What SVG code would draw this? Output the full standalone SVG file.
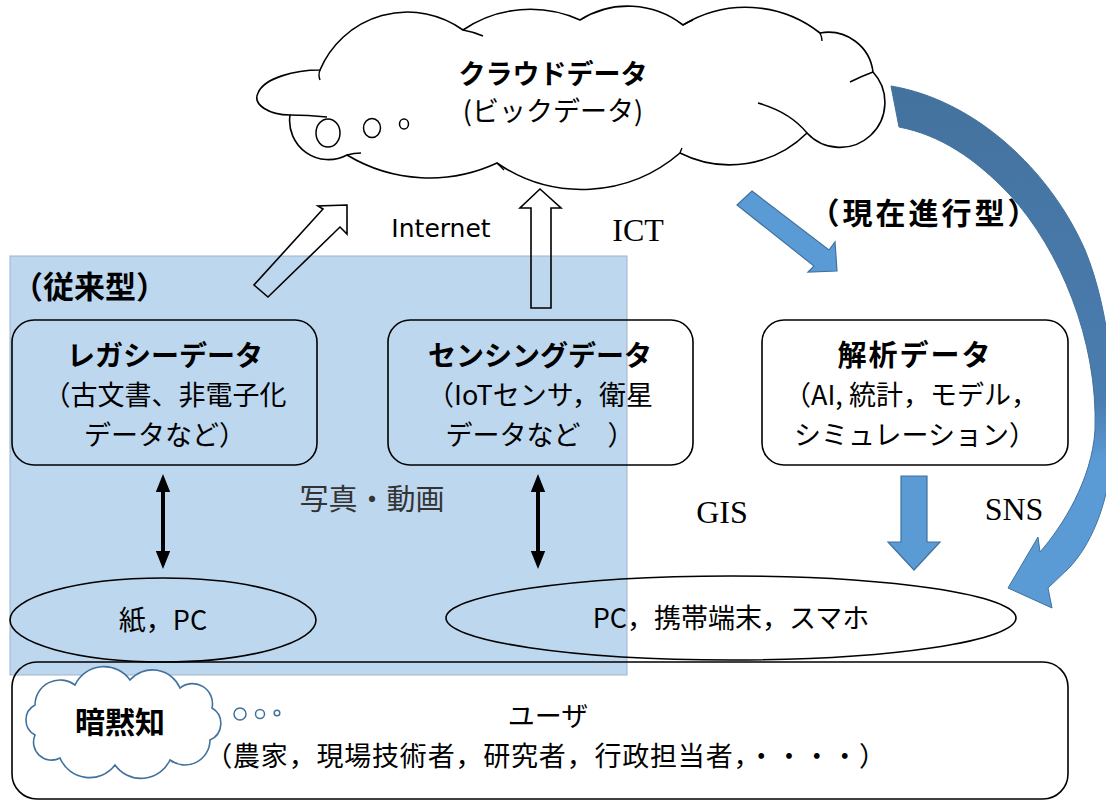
<svg xmlns="http://www.w3.org/2000/svg" width="1106" height="802" viewBox="0 0 1106 802">
<defs>
<style>
.jp{font-family:"Noto Sans CJK JP","Noto Sans",sans-serif;fill:#000}
.b{font-weight:bold}
.box{fill:none;stroke:#000;stroke-width:1.6}
.ser{font-family:"Liberation Serif",serif;fill:#000}
.blu{fill:#5B9BD5;stroke:#41719C;stroke-width:1.2}
.hol{fill:none;stroke:#000;stroke-width:1.6;stroke-linejoin:miter}
</style>
<marker id="ah" viewBox="0 0 10 10" refX="5" refY="5" markerWidth="4.5" markerHeight="4.5" orient="auto-start-reverse">
<path d="M0,1 L10,5 L0,9 Z" fill="#000"/>
</marker>
<linearGradient id="cg" x1="0" y1="0" x2="0" y2="1">
<stop offset="0" stop-color="#44729E"/>
<stop offset="0.6" stop-color="#4A7DB0"/>
<stop offset="0.72" stop-color="#5B9BD5"/>
<stop offset="1" stop-color="#5B9BD5"/>
</linearGradient>
</defs>
<rect width="1106" height="802" fill="#fff"/>
<rect id="legacy-area" x="10" y="256" width="617" height="419" fill="#BDD7EE" stroke="#9CB4CA" stroke-width="1"/>

<g id="cloud">
<path d="M320,70 A95,95 0 0 1 463,30 A120,120 0 0 1 580,20 A90,90 0 0 1 683,25 A120,120 0 0 1 820,33 A45,45 0 0 1 873,72 A43,43 0 0 1 807,133 A110,110 0 0 1 680,153 A150,150 0 0 1 497,163 A160,160 0 0 1 347,155 A39,39 0 0 1 290,115 C270,115 252,105 258,93 C264,78 295,70 320,70 Z" fill="#fff" stroke="#000" stroke-width="1.6"/>
<path d="M320,70 Q318,75 320,80 M463,30 Q474,32 483,36 M683,25 Q688,22 693,20 M820,33 Q822,37 822,41 M873,72 Q862,76 850,82 M807,133 Q790,112 758,103 M680,153 Q681,150 682,148 M497,163 Q500,166 504,170 M347,155 Q354,153 361,153 M290,115 Q308,115 327,117" fill="none" stroke="#000" stroke-width="1.4"/>
<ellipse cx="328" cy="133" rx="12" ry="14" fill="none" stroke="#000" stroke-width="1.5"/>
<ellipse cx="372" cy="128" rx="8.5" ry="9.5" fill="none" stroke="#000" stroke-width="1.5"/>
<ellipse cx="404" cy="124" rx="4.5" ry="5" fill="none" stroke="#000" stroke-width="1.5"/>
<text class="jp b" x="553" y="84" font-size="27" text-anchor="middle">クラウドデータ</text>
<text class="jp" x="553" y="121" font-size="27" text-anchor="middle">(ビックデータ)</text>
</g>

<g id="connectors">
<polygon class="hol" points="347,205 318,206 323,209 254,285 268,297 340,227 347,234"/>
<polygon class="hol" points="540,189 561,208 551,208 551,308 531,308 531,208 520,208"/>
<polygon class="blu" points="752,191 829,250 835,242 837,271 808,272 814,266 737,205"/>
<polygon class="blu" points="901,476 927,476 927,542 940,542 914,570 888,542 901,542"/>
<path d="M891,86 C975,100 1050,170 1085,250 C1110,310 1118,400 1112,460 C1106,510 1090,545 1070,567 L1048,588 L1052,608 L1008,588 L1038,537 L1040,552 C1062,527 1092,480 1095,430 C1098,340 1060,250 1010,195 C975,158 940,135 899,127 Z" fill="url(#cg)" stroke="#41719C" stroke-width="1"/>
<line x1="163" y1="483" x2="163" y2="560" stroke="#000" stroke-width="4" marker-start="url(#ah)" marker-end="url(#ah)"/>
<line x1="538" y1="483" x2="538" y2="560" stroke="#000" stroke-width="4" marker-start="url(#ah)" marker-end="url(#ah)"/>
<text x="441" y="237" font-family="DejaVu Sans, sans-serif" font-size="25" text-anchor="middle" fill="#000">Internet</text>
<text class="ser" x="638" y="241" font-size="32" text-anchor="middle">ICT</text>
<text class="ser" x="722" y="523" font-size="32" text-anchor="middle">GIS</text>
<text class="ser" x="1014" y="520" font-size="32" text-anchor="middle">SNS</text>
<text class="jp" x="372" y="510" font-size="29" text-anchor="middle" style="fill:#333">写真・動画</text>
</g>

<text id="label-old" class="jp b" x="12" y="298" font-size="31">（従来型）</text>
<text id="label-now" class="jp b" x="925" y="224" font-size="30" text-anchor="middle" letter-spacing="3">（現在進行型）</text>

<g id="legacy">
<rect class="box" x="12" y="320" width="305" height="145" rx="22"/>
<text class="jp b" x="165" y="366" font-size="28" text-anchor="middle">レガシーデータ</text>
<text class="jp" x="165" y="405" font-size="27" text-anchor="middle">（古文書、非電子化</text>
<text class="jp" x="165" y="445" font-size="27" text-anchor="middle">データなど）</text>
</g>

<g id="sensing">
<rect class="box" x="388" y="320" width="305" height="145" rx="22"/>
<text class="jp b" x="540" y="366" font-size="28" text-anchor="middle">センシングデータ</text>
<text class="jp" x="540" y="405" font-size="27" text-anchor="middle">（IoTセンサ，衛星</text>
<text class="jp" x="540" y="445" font-size="27" text-anchor="middle">データなど　）</text>
</g>

<g id="analysis">
<rect class="box" x="762" y="320" width="306" height="145" rx="22"/>
<text class="jp b" x="915" y="366" font-size="29" text-anchor="middle" letter-spacing="2">解析データ</text>
<text class="jp" x="911" y="405" font-size="27" text-anchor="middle">（AI, 統計，モデル，</text>
<text class="jp" x="915" y="445" font-size="27" text-anchor="middle">シミュレーション）</text>
</g>

<g id="paper-pc">
<ellipse cx="163" cy="620" rx="153" ry="42" fill="none" stroke="#000" stroke-width="1.6"/>
<text class="jp" x="163" y="630" font-size="27" text-anchor="middle">紙，PC</text>
</g>

<g id="devices">
<ellipse cx="731" cy="618" rx="285" ry="42" fill="none" stroke="#000" stroke-width="1.6"/>
<text class="jp" x="731" y="628" font-size="27" text-anchor="middle">PC，携帯端末，スマホ</text>
</g>

<g id="user">
<rect class="box" x="12" y="662" width="1056" height="137" rx="25"/>
<text class="jp" x="548" y="726" font-size="27" text-anchor="middle">ユーザ</text>
<text class="jp" x="546" y="766" font-size="27" text-anchor="middle" letter-spacing="0.8">（農家，現場技術者，研究者，行政担当者，・・・・）</text>
</g>

<g id="tacit">
<path d="M35,705 A25,25 0 0 1 75,685 A32,32 0 0 1 130,680 A30,30 0 0 1 180,688 A20,20 0 0 1 212,708 A18,18 0 0 1 210,740 A25,25 0 0 1 170,760 A32,32 0 0 1 115,765 A32,32 0 0 1 60,758 A18,18 0 0 1 35,735 A17,17 0 0 1 35,705 Z" fill="#fff" stroke="#41719C" stroke-width="1.6"/>
<circle cx="240" cy="714" r="6" fill="none" stroke="#41719C" stroke-width="1.5"/>
<circle cx="260" cy="714" r="4.5" fill="none" stroke="#41719C" stroke-width="1.5"/>
<circle cx="277" cy="713" r="2.8" fill="none" stroke="#41719C" stroke-width="1.5"/>
<text class="jp b" x="120" y="733" font-size="30" text-anchor="middle">暗黙知</text>
</g>
</svg>
